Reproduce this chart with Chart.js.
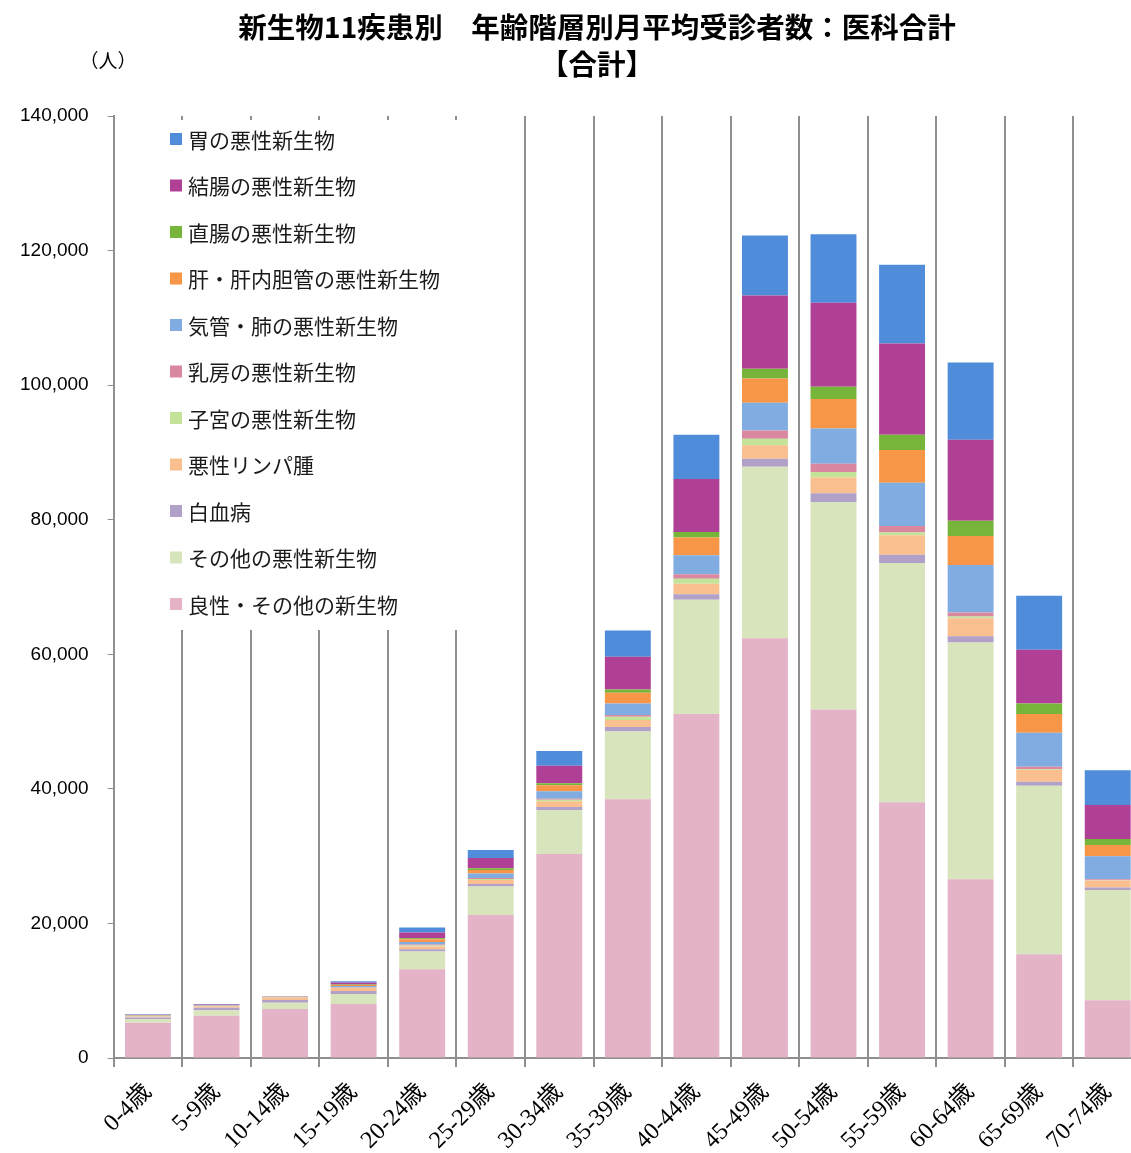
<!DOCTYPE html>
<html>
<head>
<meta charset="utf-8">
<script src="https://cdn.jsdelivr.net/npm/chart.js@4/dist/chart.umd.min.js"></script>
<style>
  html, body { margin: 0; padding: 0; background: #fff; overflow: hidden; }
  #wrap { width: 1131px; height: 1153px; overflow: hidden; }
</style>
</head>
<body>
<div id="wrap"><canvas id="chart" width="1150" height="1166"></canvas></div>
<script>
// age groups
const ageGroups = ['0-4歳', '5-9歳', '10-14歳', '15-19歳', '20-24歳', '25-29歳', '30-34歳', '35-39歳',
    '40-44歳', '45-49歳', '50-54歳', '55-59歳', '60-64歳', '65-69歳', '70-74歳'];

// monthly average patients, stacked bottom to top
const benign      = [5240, 6280, 7275, 8020, 13215, 21275, 30330, 38450, 51115, 62400, 51810, 38005, 26575, 15440, 8610];
const otherMalig  = [550, 840, 940, 1485, 2625, 4215, 6490, 10095, 16985, 25490, 30835, 35585, 35185, 25045, 16375];
const leukemia    = [250, 340, 400, 445, 340, 385, 490, 640, 830, 1190, 1275, 1190, 935, 595, 355];
const lymphoma    = [150, 250, 350, 445, 400, 595, 840, 1040, 1545, 1975, 2375, 2910, 2670, 1780, 1040];
const uterus      = [20, 20, 20, 60, 150, 150, 250, 505, 740, 995, 800, 400, 250, 90, 50];
const breast      = [20, 20, 20, 60, 150, 150, 150, 240, 685, 1230, 1235, 995, 595, 355, 150];
const lung        = [60, 60, 50, 200, 385, 655, 1090, 1735, 2820, 4110, 5240, 6430, 7080, 5050, 3415];
const liver       = [80, 60, 50, 150, 400, 535, 890, 1590, 2630, 3610, 4365, 4855, 4305, 2760, 1680];
const rectum      = [20, 20, 20, 60, 150, 250, 300, 490, 845, 1440, 1830, 2270, 2270, 1590, 890];
const colon       = [60, 60, 40, 300, 845, 1530, 2620, 4855, 7870, 10880, 12470, 13555, 12025, 7970, 5050];
const stomach     = [80, 70, 35, 205, 740, 1190, 2180, 3905, 6575, 8910, 10200, 11685, 11475, 8015, 5150];

const seriesNames = ['良性・その他の新生物', 'その他の悪性新生物', '白血病', '悪性リンパ腫', '子宮の悪性新生物',
    '乳房の悪性新生物', '気管・肺の悪性新生物', '肝・肝内胆管の悪性新生物', '直腸の悪性新生物', '結腸の悪性新生物', '胃の悪性新生物'];
const seriesData = [benign, otherMalig, leukemia, lymphoma, uterus, breast, lung, liver, rectum, colon, stomach];
const seriesColors = ['#E4B3C8', '#D8E4BC', '#B1A0C7', '#FABF8F', '#C2E398', '#D9889F', '#80ACE2', '#F79646', '#77B43A', '#B04096', '#4F8DDA'];

const yTicks = [0, 20000, 40000, 60000, 80000, 100000, 120000, 140000];

const titleLines = ['新生物11疾患別　年齢階層別月平均受診者数：医科合計', '【合計】'];
const unitLabel = '（人）';

const gridGray = '#8f8f8f';
const jp = '"Noto Sans CJK JP", "Noto Sans", sans-serif';

// title, unit and the legend box that sits over the plot
const overlayPlugin = {
    id: 'overlay',
    afterDatasetsDraw(chart) {
        const ctx = chart.ctx;
        ctx.save();
        ctx.fillStyle = '#000';
        ctx.textAlign = 'center';
        ctx.textBaseline = 'middle';
        ctx.font = 'bold 28.5px ' + jp;
        ctx.fillText(titleLines[0], 597, 27);
        ctx.fillText(titleLines[1], 597, 64);
        ctx.font = '19px ' + jp;
        ctx.fillText(unitLabel, 108, 61);

        // legend
        ctx.fillStyle = '#fff';
        ctx.fillRect(116, 120, 346, 510);
        ctx.textAlign = 'left';
        ctx.font = '21px ' + jp;
        const ds = chart.data.datasets;
        for (let i = 0; i < ds.length; i++) {
            const d = ds[ds.length - 1 - i];
            const y = 139 + i * 46.5;
            ctx.fillStyle = d.backgroundColor;
            ctx.fillRect(170, y - 6, 12, 12);
            ctx.fillStyle = '#1a1a1a';
            ctx.fillText(d.label, 188, y + 1);
        }
        ctx.restore();
    }
};

const datasets = seriesNames.map((name, i) => ({
    label: name,
    data: seriesData[i],
    backgroundColor: seriesColors[i],
    borderWidth: 0,
    barPercentage: 0.67,
    categoryPercentage: 1.0
}));

new Chart(document.getElementById('chart').getContext('2d'), {
    type: 'bar',
    data: { labels: ageGroups, datasets: datasets },
    options: {
        responsive: false,
        animation: false,
        locale: 'en-US',
        layout: { padding: { top: 116, left: 1, right: 8, bottom: 0 } },
        scales: {
            x: {
                stacked: true,
                grid: { display: true, offset: true, color: gridGray, lineWidth: 2, tickLength: 9, drawTicks: true },
                border: { display: true, color: gridGray, width: 2 },
                ticks: {
                    color: '#000',
                    font: { family: '"Liberation Serif", "Noto Sans CJK JP", serif', size: 24 },
                    minRotation: 45, maxRotation: 45, padding: 11, autoSkip: false
                }
            },
            y: {
                stacked: true,
                min: 0,
                max: 140000,
                afterBuildTicks(axis) { axis.ticks = yTicks.map(v => ({ value: v })); },
                grid: { drawOnChartArea: false, drawTicks: true, tickLength: 6, color: gridGray, lineWidth: 1 },
                border: { display: true, color: gridGray, width: 2 },
                ticks: {
                    color: '#000',
                    font: { family: '"Liberation Sans", Arial, sans-serif', size: 19 },
                    padding: 19
                }
            }
        },
        plugins: {
            legend: { display: false },
            title: { display: false },
            tooltip: { enabled: false }
        }
    },
    plugins: [overlayPlugin]
});
</script>
</body>
</html>
